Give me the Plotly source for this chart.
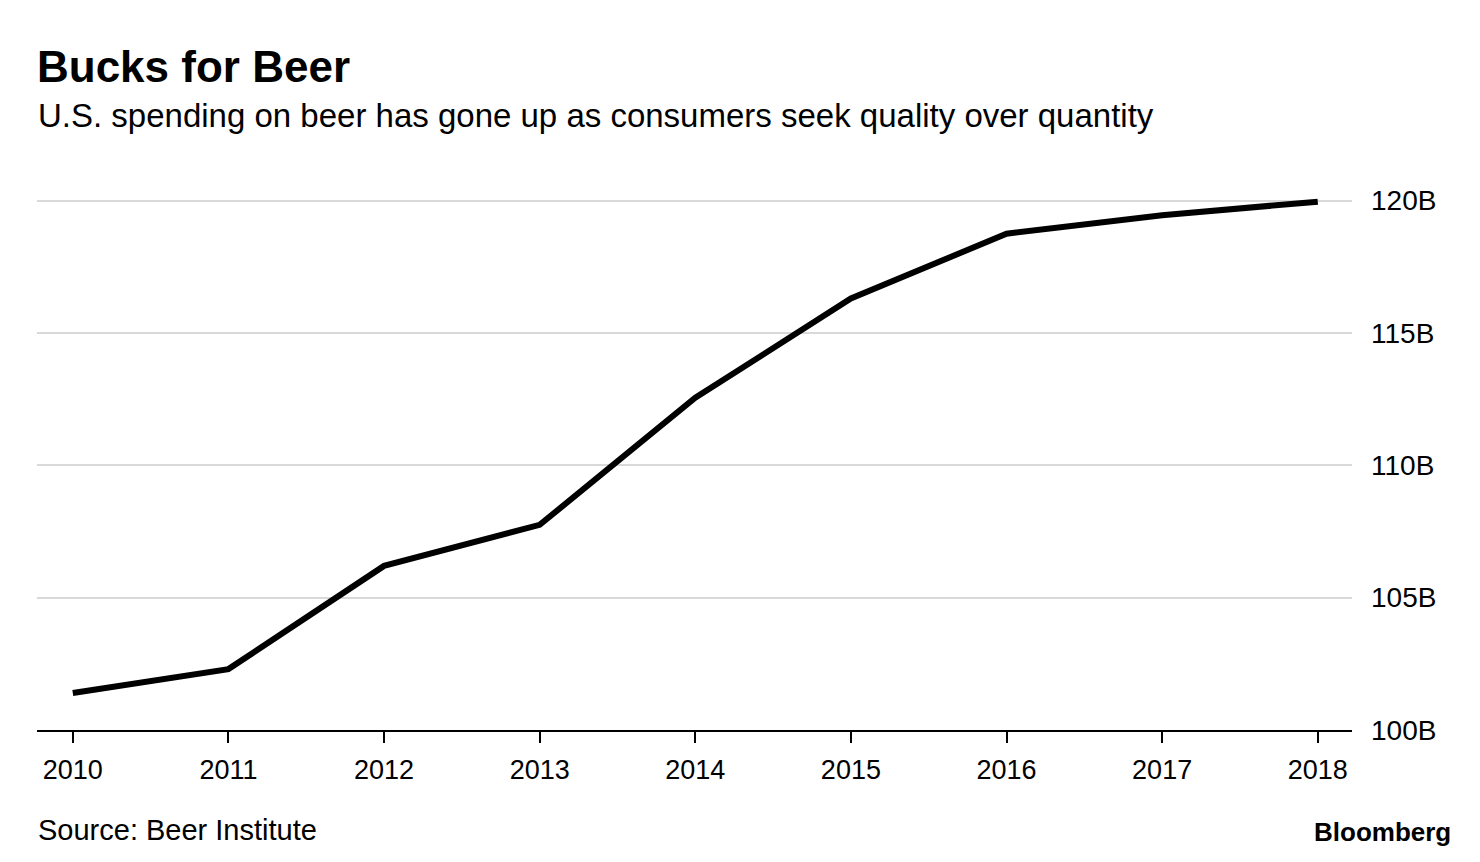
import plotly.graph_objects as go

years = [2010, 2011, 2012, 2013, 2014, 2015, 2016, 2017, 2018]
spending_b = [101.4, 102.3, 106.2, 107.75, 112.55, 116.3, 118.75, 119.45, 119.96]
y_ticks = [100, 105, 110, 115, 120]
y_tick_labels = ["100B", "105B", "110B", "115B", "120B"]

W, H = 1480, 862
ml, mr, mt, mb = 37, 128, 190, 132

font = "Liberation Sans, Arial, Helvetica, sans-serif"

fig = go.Figure()
fig.add_trace(go.Scatter(
    x=years, y=spending_b, mode="lines",
    line=dict(color="black", width=6),
    hoverinfo="x+y", cliponaxis=False,
))


def paper_x(px):
    return (px - ml) / (W - ml - mr)


def paper_y(py):
    return (H - mb - py) / (H - mt - mb)


texts = [
    ("<b>Bucks for Beer</b>", 35, 66, 44, "left"),
    ("U.S. spending on beer has gone up as consumers seek quality over quantity", 36, 116, 33, "left"),
    ("Source: Beer Institute", 36, 830, 29, "left"),
    ("<b>Bloomberg</b>", 1453, 832, 26, "right"),
]
annotations = [
    dict(text=t, x=paper_x(x), y=paper_y(y), xref="paper", yref="paper",
         xanchor=xa, yanchor="middle", showarrow=False,
         font=dict(size=s, family=font, color="black"))
    for t, x, y, s, xa in texts
]

fig.update_layout(
    width=W, height=H,
    margin=dict(l=ml, r=mr, t=mt, b=mb, autoexpand=False),
    paper_bgcolor="white", plot_bgcolor="white",
    showlegend=False,
    font=dict(family=font, color="black"),
    xaxis=dict(
        range=[2009.77, 2018.22],
        tickvals=years, ticktext=[str(y) for y in years],
        showgrid=False, zeroline=False,
        showline=True, linecolor="black", linewidth=2,
        ticks="outside", ticklen=11, tickwidth=2, tickcolor="black",
        tickfont=dict(size=27, family=font),
        ticklabelstandoff=4,
    ),
    yaxis=dict(
        range=[100, 120.4], side="right",
        tickvals=y_ticks, ticktext=y_tick_labels,
        showgrid=True, gridcolor="#d9d9d9", gridwidth=2,
        zeroline=False, showline=False, ticks="",
        tickfont=dict(size=28, family=font),
        ticklabelstandoff=18,
    ),
    annotations=annotations,
)

fig.write_html("out.html", config={"displayModeBar": False})

with open("out.html", "r", encoding="utf-8") as f:
    html = f.read()
html = html.replace("<body>", '<body style="margin:0">', 1)
with open("out.html", "w", encoding="utf-8") as f:
    f.write(html)
